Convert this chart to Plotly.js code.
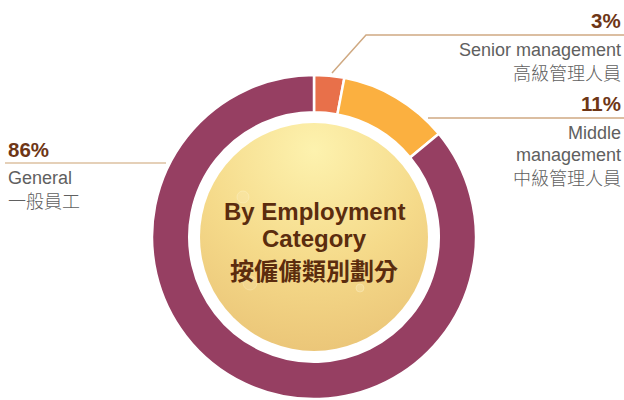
<!DOCTYPE html>
<html>
<head>
<meta charset="utf-8">
<script src="https://cdn.plot.ly/plotly-3.0.1.min.js"></script>
<style>html,body{margin:0;padding:0;background:#fff;}#chart{width:624px;height:400px;}</style>
</head>
<body>
<div id="chart"></div>
<script>
// ---- data ----
const categories = ['Senior management', 'Middle management', 'General'];
const categoryLines = [['Senior management'], ['Middle', 'management'], ['General']];
const categoriesZh = ['高級管理人員', '中級管理人員', '一般員工'];
const values = [3, 11, 86];
const centerTitle = ['By Employment', 'Category', '按僱傭類別劃分'];

// ---- styling ----
const colors = ['#e8704a', '#fbb040', '#963f62'];
const W = 624, H = 400;
const cx = 314, cy = 237, R = 162;
const px = x => x / W;
const py = y => 1 - y / H;

const FONT = '"Liberation Sans", Arial, "Noto Sans CJK TC", sans-serif';
const CJK = '"Noto Sans CJK TC", sans-serif';
const pctColor = '#6e3616';
const txtColor = '#606060';
const lineColor = '#cfa982';

const trace = {
  type: 'pie',
  labels: categories,
  values: values,
  sort: false,
  direction: 'clockwise',
  rotation: 0,
  hole: 0.77,
  textinfo: 'none',
  hoverinfo: 'label+percent',
  showlegend: false,
  marker: {colors: colors, line: {color: '#ffffff', width: 2.5}},
  domain: {x: [px(cx - R), px(cx + R)], y: [py(cy + R), py(cy - R)]}
};

// golden centre disc
const rc = 114;
const svg = `<svg xmlns="http://www.w3.org/2000/svg" width="228" height="228" viewBox="0 0 228 228">
<defs>
<radialGradient id="g" cx="0.5" cy="0.12" r="1.0">
<stop offset="0" stop-color="#fdf2ae"/>
<stop offset="0.5" stop-color="#f5da8a"/>
<stop offset="1" stop-color="#e8c073"/>
</radialGradient>
</defs>
<circle cx="114" cy="114" r="114" fill="url(#g)"/>
<circle cx="43" cy="74" r="6" fill="rgba(255,250,220,0.15)" stroke="rgba(255,250,220,0.3)"/>
<circle cx="50" cy="160" r="7" fill="rgba(255,250,220,0.12)" stroke="rgba(255,250,220,0.25)"/>
<circle cx="160" cy="165" r="4" fill="rgba(255,250,220,0.2)" stroke="rgba(255,250,220,0.3)"/>
</svg>`;
const images = [{
  source: 'data:image/svg+xml;charset=utf-8,' + encodeURIComponent(svg),
  xref: 'paper', yref: 'paper',
  x: px(cx - rc), y: py(cy - rc),
  sizex: (2 * rc) / W, sizey: (2 * rc) / H,
  xanchor: 'left', yanchor: 'top', sizing: 'stretch', layer: 'below'
}];

// leader lines
const shapes = [
  {type: 'path', xref: 'paper', yref: 'paper',
   path: `M ${px(332)} ${py(73)} L ${px(366)} ${py(35)} L ${px(624)} ${py(35)}`,
   line: {color: lineColor, width: 1.5}},
  {type: 'line', xref: 'paper', yref: 'paper', x0: px(428), y0: py(118), x1: px(624), y1: py(118),
   line: {color: lineColor, width: 1.5}},
  {type: 'line', xref: 'paper', yref: 'paper', x0: px(5), y0: py(163), x1: px(166), y1: py(163),
   line: {color: '#dcc0a0', width: 1.5}}
];

// annotation layout (pixel positions)
const labelPos = [
  {x: 623, anchor: 'right', pctY: 20, lineYs: [50], zhY: 72},
  {x: 623, anchor: 'right', pctY: 103.5, lineYs: [133, 155], zhY: 177},
  {x: 6, anchor: 'left', pctY: 149, lineYs: [178], zhY: 200}
];

const annotations = [];
values.forEach((v, i) => {
  const p = labelPos[i];
  annotations.push({xref: 'paper', yref: 'paper', x: px(p.x), y: py(p.pctY), xanchor: p.anchor, yanchor: 'middle',
    text: v + '%', showarrow: false, font: {family: FONT, size: 20.5, color: pctColor, weight: 'bold'}});
  categoryLines[i].forEach((t, j) => {
    annotations.push({xref: 'paper', yref: 'paper', x: px(p.x), y: py(p.lineYs[j]), xanchor: p.anchor, yanchor: 'middle',
      text: t, showarrow: false, font: {family: FONT, size: 18, color: txtColor}});
  });
  annotations.push({xref: 'paper', yref: 'paper', x: px(p.x), y: py(p.zhY), xanchor: p.anchor, yanchor: 'middle',
    text: categoriesZh[i], showarrow: false, font: {family: CJK, size: 18, color: txtColor, weight: 300}});
});

const centerYs = [211, 238, 269];
centerTitle.forEach((t, j) => {
  annotations.push({xref: 'paper', yref: 'paper', x: px(cx), y: py(centerYs[j]), xanchor: 'center', yanchor: 'middle',
    text: t, showarrow: false,
    font: {family: j < 2 ? FONT : CJK, size: 24, color: '#5b2c0e', weight: 'bold'}});
});

const layout = {
  width: W, height: H,
  margin: {l: 0, r: 0, t: 0, b: 0},
  paper_bgcolor: '#ffffff',
  plot_bgcolor: '#ffffff',
  images: images,
  shapes: shapes,
  annotations: annotations,
  showlegend: false
};

Plotly.newPlot('chart', [trace], layout, {displayModeBar: false, staticPlot: true});
</script>
</body>
</html>
